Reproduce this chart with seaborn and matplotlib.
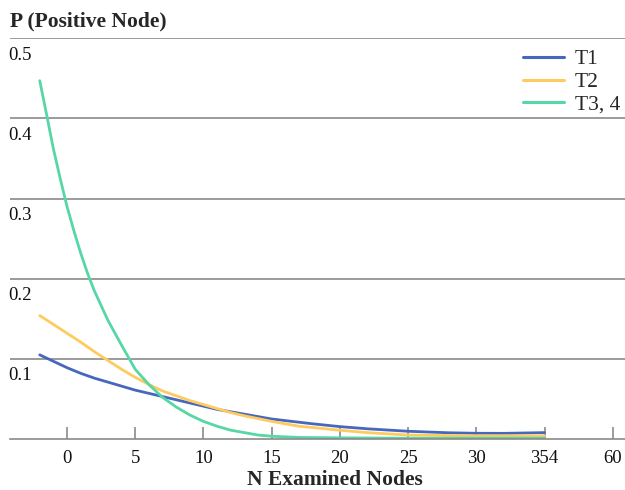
import matplotlib
matplotlib.use("Agg")
import matplotlib.pyplot as plt
import seaborn as sns
import pandas as pd

# ---- data ----
x_t1 = [-2, -1, 0, 1, 2, 3, 4, 5, 6, 7, 8, 9, 10, 11, 12, 13, 15, 18, 20, 22, 25, 28, 30, 32, 35]
y_t1 = [0.105, 0.097, 0.089, 0.082, 0.076, 0.071, 0.066, 0.061, 0.057, 0.053, 0.049, 0.045,
        0.041, 0.037, 0.034, 0.031, 0.025, 0.019, 0.0155, 0.0128, 0.0097, 0.0078, 0.0072,
        0.0071, 0.008]

x_t2 = [-2, -1, 0, 1, 2, 3, 4, 5, 6, 7, 8, 9, 10, 11, 12, 13, 15, 17, 20, 22, 25, 28, 30, 35]
y_t2 = [0.154, 0.143, 0.132, 0.121, 0.109, 0.098, 0.087, 0.077, 0.068, 0.060, 0.054, 0.048,
        0.043, 0.038, 0.033, 0.029, 0.022, 0.016, 0.011, 0.008, 0.005, 0.0043, 0.004, 0.004]

x_t34 = [-2, -1.5, -1, -0.5, 0, 0.5, 1, 1.5, 2, 3, 4, 5, 6, 7, 8, 9, 10, 11, 12, 13, 14, 15,
         17, 20, 25, 30, 35]
y_t34 = [0.447, 0.405, 0.362, 0.325, 0.290, 0.260, 0.232, 0.207, 0.185, 0.148, 0.117, 0.087,
         0.068, 0.052, 0.040, 0.030, 0.022, 0.016, 0.011, 0.008, 0.005, 0.0035, 0.002,
         0.0015, 0.001, 0.001, 0.001]

series_names = ["T1", "T2", "T3, 4"]
series_colors = ["#4767bd", "#fdcb5f", "#57d6a6"]

x_tick_pos = [0, 5, 10, 15, 20, 25, 30, 35, 40]
x_tick_labels = ["0", "5", "10", "15", "20", "25", "30", "354", "60"]
y_tick_pos = [0.1, 0.2, 0.3, 0.4, 0.5]
y_tick_labels = ["0.1", "0.2", "0.3", "0.4", "0.5"]

x_title = "N Examined Nodes"
y_title = "P (Positive Node)"

# ---- build long-form table ----
frames = []
for name, xs, ys in zip(series_names, [x_t1, x_t2, x_t34], [y_t1, y_t2, y_t34]):
    frames.append(pd.DataFrame({"x": xs, "y": ys, "series": name}))
df = pd.concat(frames, ignore_index=True)

sns.set_theme(style="white")
plt.rcParams["font.family"] = ["Liberation Serif", "DejaVu Serif"]

fig = plt.figure(figsize=(6.25, 4.9), dpi=100)
ax = fig.add_axes([0.016, 0.104, 0.984, 0.818])

grid_col = "#8a8a8a"
for v in y_tick_pos:
    ax.axhline(v, color=grid_col, lw=1.2, zorder=0)

sns.lineplot(data=df, x="x", y="y", hue="series", hue_order=series_names,
             palette=series_colors, linewidth=2.0, ax=ax, sort=True, estimator=None)

ax.set_xlim(-4.18, 40.9)
ax.set_ylim(0, 0.5)

for s in ["top", "right", "left"]:
    ax.spines[s].set_visible(False)
ax.spines["bottom"].set_color(grid_col)
ax.spines["bottom"].set_linewidth(1.2)

ax.set_xticks(x_tick_pos)
ax.set_xticklabels(x_tick_labels, fontsize=13.5)
ax.tick_params(axis="x", direction="in", length=9, width=1.2, color=grid_col,
               pad=8, labelcolor="#111111", bottom=True)
ax.set_yticks([])

for v, lab in zip(y_tick_pos, y_tick_labels):
    ax.annotate(lab, xy=(0, v), xycoords=("axes fraction", "data"),
                xytext=(-1.5, -6), textcoords="offset points",
                ha="left", va="top", fontsize=13.5, color="#111111",
                annotation_clip=False)

ax.set_xlabel(x_title, fontsize=15.5, fontweight="bold")
ax.xaxis.set_label_coords(0.528, -0.078)
ax.set_ylabel("")
fig.text(0.016, 0.957, y_title, fontsize=15.5, fontweight="bold", ha="left", va="center")

leg = ax.legend(loc="upper right", frameon=False, fontsize=15.5, handlelength=1.9,
                labelspacing=0.12, borderaxespad=0.0, handletextpad=0.5,
                borderpad=0.2, bbox_to_anchor=(0.999, 0.983))
for h in leg.get_lines():
    h.set_linewidth(2.2)

fig.savefig("out.png", dpi=100)
